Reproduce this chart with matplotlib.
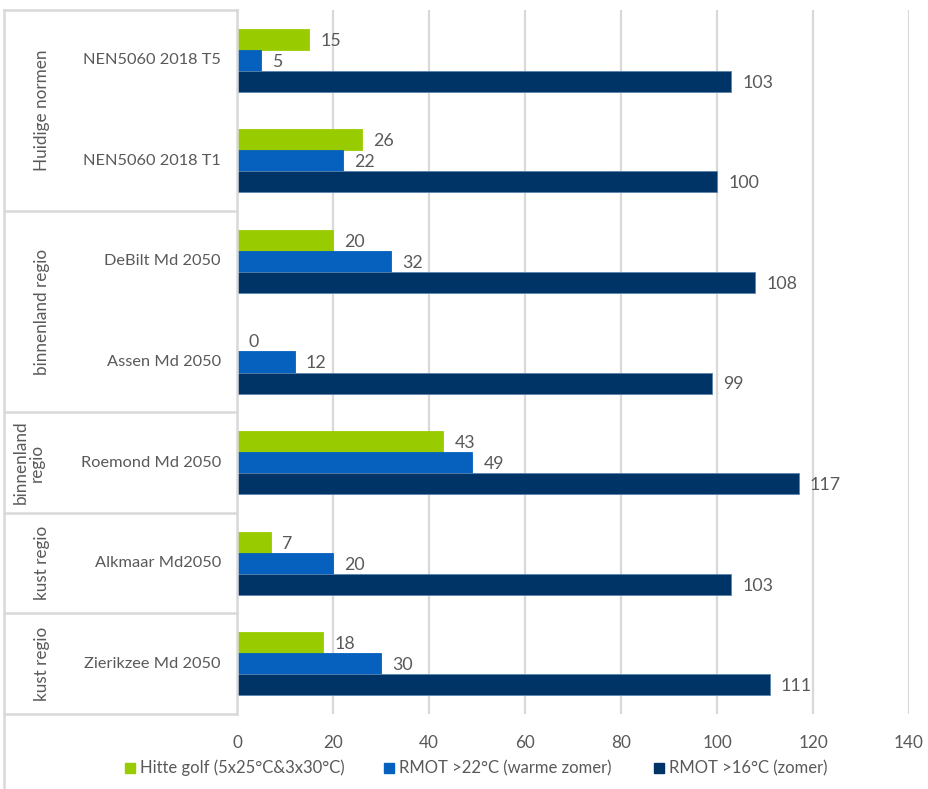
import matplotlib
matplotlib.use("Agg")
import matplotlib.pyplot as plt
from matplotlib.lines import Line2D
from matplotlib.patches import Rectangle
import numpy as np

plt.rcParams['font.family'] = ['Lato', 'DejaVu Sans']

categories = ["NEN5060 2018 T5", "NEN5060 2018 T1", "DeBilt Md 2050", "Assen Md 2050",
              "Roemond Md 2050", "Alkmaar Md2050", "Zierikzee Md 2050"]
groups = [("Huidige normen", 0, 2), ("binnenland regio", 2, 4), ("binnenland\nregio", 4, 5),
          ("kust regio", 5, 6), ("kust regio", 6, 7)]
series_names = ["Hitte golf (5x25°C&3x30°C)", "RMOT >22°C (warme zomer)", "RMOT >16°C (zomer)"]
hitte = [15, 26, 20, 0, 43, 7, 18]
rmot22 = [5, 22, 32, 12, 49, 20, 30]
rmot16 = [103, 100, 108, 99, 117, 103, 111]
xticks = [0, 20, 40, 60, 80, 100, 120, 140]

colors = ["#99CC00", "#0561BD", "#003366"]
gray = "#595959"
gridc = "#D9D9D9"

W, H = 929, 789
fig = plt.figure(figsize=(W/100, H/100), dpi=100)
x0, x1 = 237, 909
ytop, ybot = 10, 714
ax = fig.add_axes([x0/W, 1-ybot/H, (x1-x0)/W, (ybot-ytop)/H])

n = len(categories)
y = np.arange(n)
bh = 0.209
for i, (vals, c) in enumerate(zip([hitte, rmot22, rmot16], colors)):
    pos = y + (i-1)*bh
    ax.barh(pos, vals, height=bh, color=c, zorder=3,
            edgecolor=("#5b84ad" if i == 2 else c), linewidth=0.6)
    for p, v in zip(pos, vals):
        ax.annotate(str(v), (v, p), xytext=(8, -1), textcoords="offset points",
                    ha="left", va="center", fontsize=12.8, color=gray)

ax.set_xlim(0, 140)
ax.set_ylim(n-0.5, -0.5)
ax.set_xticks(xticks)
ax.set_xticklabels([str(t) for t in xticks])
ax.tick_params(axis='x', length=0, pad=15, labelsize=12.3, labelcolor=gray)
ax.set_yticks([])
ax.grid(axis='x', color=gridc, linewidth=1.6, zorder=0)
for s in ax.spines.values():
    s.set_visible(False)
ax.axvline(0, color=gridc, linewidth=1.6, zorder=1)

# label table
rowh = (ybot-ytop)/n
def fy(py):
    return 1-py/H
lines_kw = dict(color=gridc, linewidth=1.8, transform=fig.transFigure)
xl = 4
fig.add_artist(Line2D([xl/W, xl/W], [fy(ytop), 0], **lines_kw))
fig.add_artist(Line2D([x0/W, x0/W], [fy(ytop), fy(ybot)], **lines_kw))
fig.add_artist(Line2D([xl/W, x0/W], [fy(ytop), fy(ytop)], **lines_kw))
for name, a, b in groups:
    yb = ytop + b*rowh
    fig.add_artist(Line2D([xl/W, x0/W], [fy(yb), fy(yb)], **lines_kw))
    yc = ytop + (a+b)/2*rowh
    fig.text(42/W if "\n" not in name else 29/W, fy(yc), name, rotation=90, ha="center", va="center",
             fontsize=12.3, color=gray, linespacing=1.0)
for i, c in enumerate(categories):
    yc = ytop + (i+0.5)*rowh
    fig.text(221/W, fy(yc), c, ha="right", va="center", fontsize=11.8, color=gray)

# legend
leg_x = [125, 384, 654]
for lx, name, c in zip(leg_x, series_names, colors):
    fig.add_artist(Rectangle((lx/W, fy(773)), 10/W, 10/H, color=c, transform=fig.transFigure))
    fig.text((lx+15)/W, fy(768), name, ha="left", va="center", fontsize=12, color=gray)

fig.savefig("out.png", dpi=100)
